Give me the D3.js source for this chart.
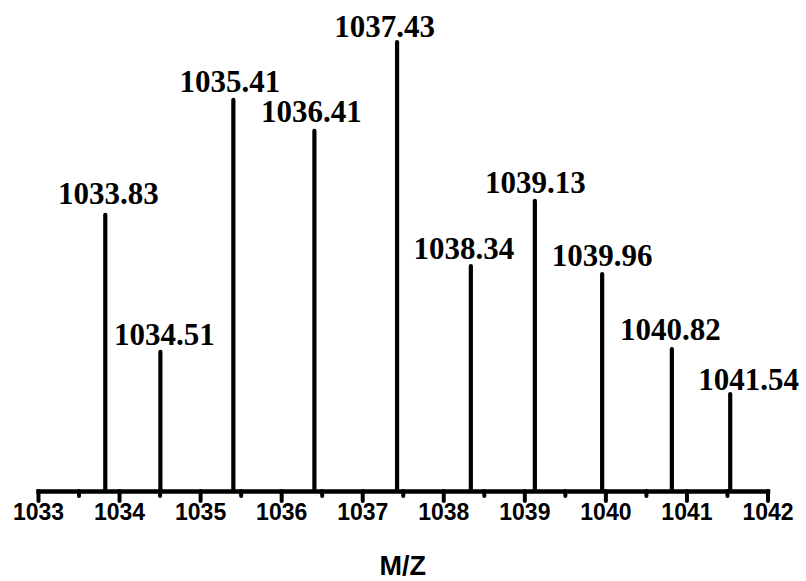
<!DOCTYPE html>
<html>
<head>
<meta charset="utf-8">
<script src="https://cdn.jsdelivr.net/npm/d3@7"></script>
<style>
  html, body { margin: 0; padding: 0; background: #fff; }
  svg { display: block; }
</style>
</head>
<body>
<svg id="chart" width="806" height="581"></svg>
<script>
// ---- data ----
const mz = [1033.83, 1034.51, 1035.41, 1036.41, 1037.43, 1038.34, 1039.13, 1039.96, 1040.82, 1041.54];
const intensity = [61.5, 31.0, 87.1, 80.2, 100, 50.1, 64.6, 48.3, 31.6, 21.6];
const peakLabels = ["1033.83", "1034.51", "1035.41", "1036.41", "1037.43", "1038.34", "1039.13", "1039.96", "1040.82", "1041.54"];
const majorTicks = [1033, 1034, 1035, 1036, 1037, 1038, 1039, 1040, 1041, 1042];
const minorTicks = [1033.5, 1034.5, 1035.5, 1036.5, 1037.5, 1038.5, 1039.5, 1040.5, 1041.5];
const xTitle = "M/Z";

// ---- layout (label nudges, in px) ----
const labelNudge = {
  "1033.83": [3, -3], "1034.51": [4, 1], "1035.41": [-3.5, 0], "1036.41": [-3, -1],
  "1037.43": [-12.5, 3], "1038.34": [-7, 1], "1039.13": [0.5, 0], "1039.96": [0, 0],
  "1040.82": [-1.5, -1], "1041.54": [18.5, 4]
};

const svg = d3.select("#chart");
const x = d3.scaleLinear().domain([1033, 1042]).range([38, 767.5]);
const y = d3.scaleLinear().domain([0, 100]).range([491, 42]);

const peaks = mz.map((m, i) => ({ m, v: intensity[i], label: peakLabels[i] }));

// sticks
svg.append("g").selectAll("line").data(peaks).join("line")
  .attr("x1", d => x(d.m)).attr("x2", d => x(d.m))
  .attr("y1", y(0)).attr("y2", d => y(d.v))
  .attr("stroke", "#000").attr("stroke-width", 4.2).attr("stroke-linecap", "round");

// peak labels
svg.append("g").selectAll("text").data(peaks).join("text")
  .attr("x", d => x(d.m) + (labelNudge[d.label] || [0, 0])[0])
  .attr("y", d => y(d.v) - 8 + (labelNudge[d.label] || [0, 0])[1])
  .attr("text-anchor", "middle")
  .attr("font-family", "'Liberation Serif', 'Times New Roman', serif")
  .attr("font-weight", "bold")
  .attr("font-size", 31)
  .attr("fill", "#000")
  .text(d => d.label);

// minor ticks
const minorAxis = d3.axisBottom(x).tickValues(minorTicks).tickSize(5).tickSizeOuter(0).tickFormat("");
const gMinor = svg.append("g").attr("transform", `translate(0,${y(0)})`).call(minorAxis);
gMinor.select(".domain").remove();
gMinor.selectAll(".tick line").attr("stroke", "#000").attr("stroke-width", 4).attr("stroke-linecap", "round");

// major axis
const majorAxis = d3.axisBottom(x).tickValues(majorTicks).tickSize(10).tickSizeOuter(0).tickPadding(3).tickFormat(d3.format("d"));
const gMajor = svg.append("g").attr("transform", `translate(0,${y(0)})`).call(majorAxis);
gMajor.select(".domain").attr("stroke", "#000").attr("stroke-width", 4.5).attr("stroke-linecap", "square");
gMajor.selectAll(".tick line").attr("stroke", "#000").attr("stroke-width", 4).attr("stroke-linecap", "round");
gMajor.selectAll(".tick text")
  .attr("font-family", "'Liberation Sans', Arial, sans-serif")
  .attr("font-weight", "bold")
  .attr("font-size", 23)
  .attr("fill", "#000");

// axis title
svg.append("text")
  .attr("x", (x(1033) + x(1042)) / 2)
  .attr("y", 575)
  .attr("text-anchor", "middle")
  .attr("font-family", "'Liberation Sans', Arial, sans-serif")
  .attr("font-weight", "bold")
  .attr("font-size", 27)
  .attr("fill", "#000")
  .text(xTitle);
</script>
</body>
</html>
